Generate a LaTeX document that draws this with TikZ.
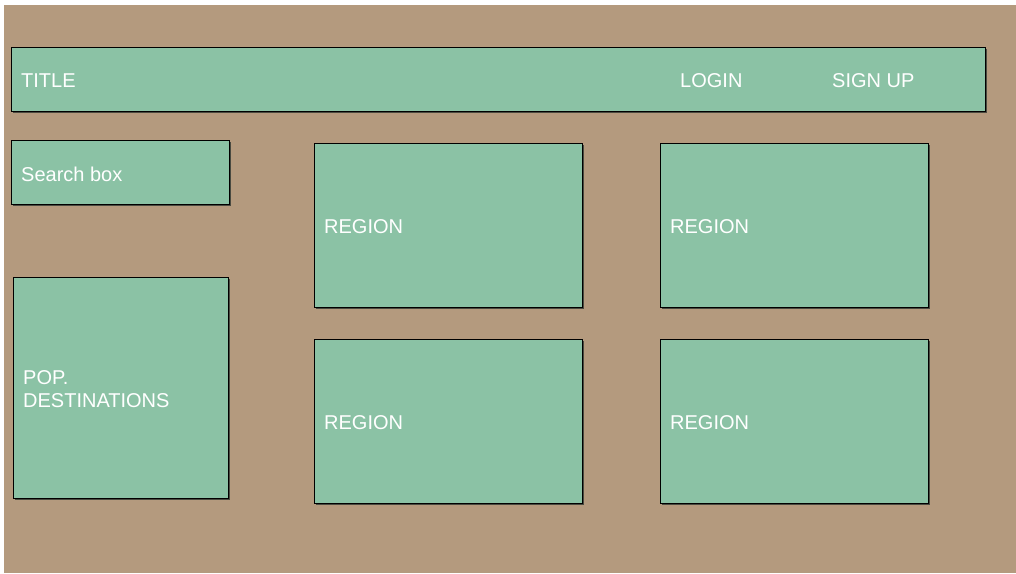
\documentclass[tikz,border=0pt]{standalone}
\usepackage{fontspec}
\setmainfont{Liberation Sans}
\definecolor{bgbrown}{HTML}{B49A7E}
\definecolor{boxgreen}{HTML}{8BC2A5}
\definecolor{shadowgray}{HTML}{4A4A40}
\tikzset{
  panel/.style={draw=black, line width=0.8pt, fill=boxgreen},
  shade/.style={fill=shadowgray},
  lbl/.style={text=white, font=\fontsize{20}{23}\selectfont, anchor=west, inner sep=0pt, align=left, yshift=-2pt}
}
\newcommand{\panelbox}[5]{%
  \fill[shade] (#2+1.5,#3+1.5) rectangle (#4+1.5,#5+1.5);
  \draw[panel] (#2,#3) rectangle (#4,#5);
  \coordinate (#1) at (#2,{(#3+#5)/2});
}
\begin{document}
\begin{tikzpicture}[x=1pt,y=-1pt]
\useasboundingbox (0,0) rectangle (1016,573);
\fill[white] (0,0) rectangle (1016,573);
\fill[bgbrown] (4,5) rectangle (1016,573);
\panelbox{title}{11}{47}{985}{111}
\panelbox{search}{11}{140}{229}{204}
\panelbox{pop}{13}{277}{228}{498}
\panelbox{r1}{314}{143}{582}{307}
\panelbox{r2}{660}{143}{928}{307}
\panelbox{r3}{314}{339}{582}{503}
\panelbox{r4}{660}{339}{928}{503}
\node[lbl] (tTitle) at ([xshift=10pt]title) {TITLE};
\node[lbl] (tLogin) at (680,79) {LOGIN};
\node[lbl] (tSign) at (832,79) {SIGN UP};
\node[lbl] (tSearch) at ([xshift=10pt]search) {Search box};
\node[lbl] (tPop) at ([xshift=10pt]pop) {POP.\\DESTINATIONS};
\node[lbl] (t1) at ([xshift=10pt]r1) {REGION};
\node[lbl] (t2) at ([xshift=10pt]r2) {REGION};
\node[lbl] (t3) at ([xshift=10pt]r3) {REGION};
\node[lbl] (t4) at ([xshift=10pt]r4) {REGION};
\end{tikzpicture}
\end{document}
